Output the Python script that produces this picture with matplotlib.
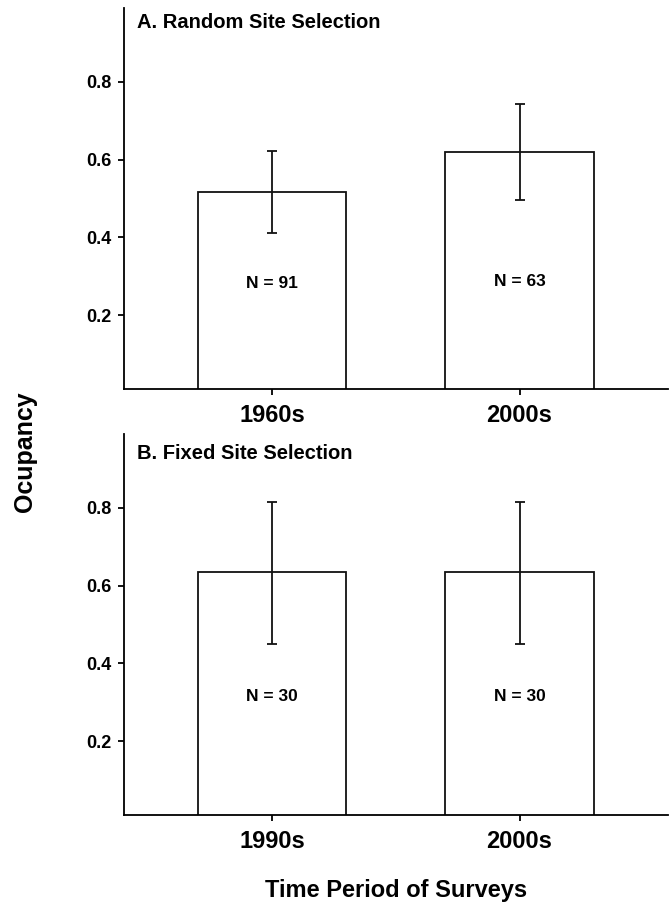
import matplotlib
matplotlib.use("Agg")
import matplotlib.pyplot as plt

plt.rcParams['font.family'] = ['Liberation Sans', 'DejaVu Sans']
plt.rcParams['font.weight'] = 'bold'

# 数据
labels_a = ["1960s", "2000s"]
occ_a = [0.516, 0.619]
lo_a = [0.412, 0.495]
hi_a = [0.621, 0.742]
n_a = ["N = 91", "N = 63"]
n_y_a = [0.281, 0.287]

labels_b = ["1990s", "2000s"]
occ_b = [0.634, 0.634]
lo_b = [0.451, 0.451]
hi_b = [0.816, 0.816]
n_b = ["N = 30", "N = 30"]
n_y_b = [0.314, 0.314]

yticks = [0.2, 0.4, 0.6, 0.8]

fig = plt.figure(figsize=(6.69, 9.07), dpi=100)
ax_a = fig.add_axes([0.1853, 0.5711, 0.813, 0.4201])
ax_b = fig.add_axes([0.1853, 0.1014, 0.813, 0.4201])

lw = 1.3


def draw_panel(ax, labels, occ, lo, hi, ns, n_y, title, title_y):
    x = [1, 2]
    err = [[o - l for o, l in zip(occ, lo)], [h - o for o, h in zip(occ, hi)]]
    ax.bar(x, occ, width=0.6, color='white', edgecolor='#111111', linewidth=lw)
    ax.errorbar(x, occ, yerr=err, fmt='none', ecolor='#111111',
                elinewidth=lw, capsize=3.5, capthick=lw)
    for xi, t, ty in zip(x, ns, n_y):
        ax.text(xi, ty, t, ha='center', va='center', fontsize=12.5, fontweight='bold')
    ax.set_xlim(0.4, 2.6)
    ax.set_ylim(0.01, 0.99)
    ax.set_xticks(x)
    ax.set_xticklabels(labels, fontsize=17, fontweight='bold')
    ax.set_yticks(yticks)
    ax.set_yticklabels([f"{v:.1f}" for v in yticks], fontsize=13, fontweight='bold')
    ax.tick_params(axis='y', direction='out', length=4, width=lw, pad=5)
    ax.tick_params(axis='x', direction='out', length=4.5, width=lw, pad=6)
    for s in ['top', 'right']:
        ax.spines[s].set_visible(False)
    for s in ['left', 'bottom']:
        ax.spines[s].set_linewidth(lw)
    ax.text(0.024, title_y, title, transform=ax.transAxes, ha='left', va='center',
            fontsize=14.5, fontweight='bold')


draw_panel(ax_a, labels_a, occ_a, lo_a, hi_a, n_a, n_y_a, "A. Random Site Selection", 0.963)
draw_panel(ax_b, labels_b, occ_b, lo_b, hi_b, n_b, n_y_b, "B. Fixed Site Selection", 0.948)

fig.text(25 / 669, 1 - 452 / 907, "Ocupancy", rotation=90, ha='center', va='center',
         fontsize=18, fontweight='bold')
fig.text(396 / 669, 1 - 890 / 907, "Time Period of Surveys", ha='center', va='center',
         fontsize=17, fontweight='bold')

fig.savefig("out.png", dpi=100)
